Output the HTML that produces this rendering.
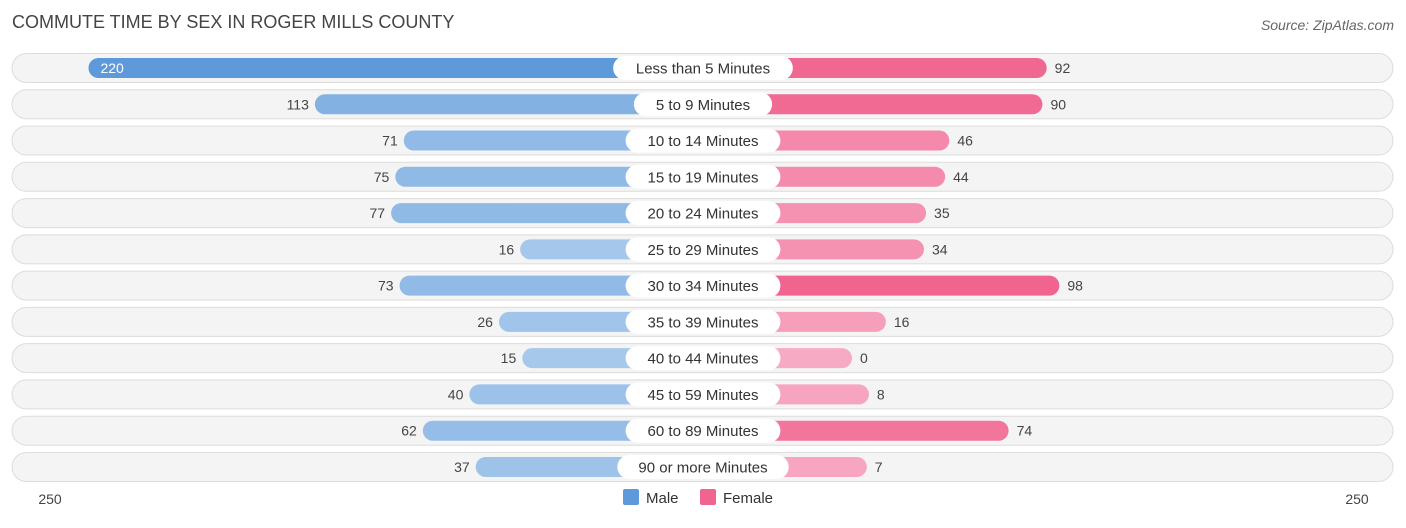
<!DOCTYPE html>
<html><head><meta charset="utf-8"><style>
body{margin:0;background:#fff;font-family:"Liberation Sans",sans-serif;}
svg text{font-family:"Liberation Sans",sans-serif;}
</style></head><body>
<svg id="c" width="1406" height="523">
<text x="12" y="28" font-size="18" fill="#444">COMMUTE TIME BY SEX IN ROGER MILLS COUNTY</text>
<text x="1394" y="30" font-size="14" fill="#666" font-style="italic" text-anchor="end">Source: ZipAtlas.com</text>
<g id="rows"></g>
<text x="50" y="504" font-size="14" fill="#444" text-anchor="middle">250</text>
<text x="1357" y="504" font-size="14" fill="#444" text-anchor="middle">250</text>
<g>
<rect x="623" y="489" width="16" height="16" rx="2" fill="#5e9ad9"/>
<text x="646" y="503" font-size="15" fill="#333">Male</text>
<rect x="700" y="489" width="16" height="16" rx="2" fill="#f0648f"/>
<text x="723" y="503" font-size="15" fill="#333">Female</text>
</g>
</svg>
<script>
const categories=["Less than 5 Minutes","5 to 9 Minutes","10 to 14 Minutes","15 to 19 Minutes","20 to 24 Minutes","25 to 29 Minutes","30 to 34 Minutes","35 to 39 Minutes","40 to 44 Minutes","45 to 59 Minutes","60 to 89 Minutes","90 or more Minutes"];
const male=[220,113,71,75,77,16,73,26,15,40,62,37];
const female=[92,90,46,44,35,34,98,16,0,8,74,7];
const axisMax=250;
const NS="http://www.w3.org/2000/svg";
const cx=703, off=149, unit=(678-149)/axisMax, y0=68, dy=36.27;
function xs(v){return off+v*unit;}
function mix(a,b,t){return "rgb("+a.map((c,i)=>Math.round(b[i]+(c-b[i])*t)).join(",")+")";}
const g=document.getElementById("rows");
function mk(tag,at){const e=document.createElementNS(NS,tag);for(const k in at)e.setAttribute(k,at[k]);return e;}
const mmax=Math.max(...male), fmax=Math.max(...female);
categories.forEach((cat,i)=>{
 const y=y0+i*dy;
 const row=mk("g",{});
 
 
 const bg=mk("rect",{x:12,y:y-14.5,width:1381,height:29,rx:14.5,fill:"#f4f4f4",stroke:"#dcdcdc","stroke-width":1});
 
 
 row.appendChild(bg);
 const mw=xs(male[i]);
 const mb=mk("rect",{x:cx-mw,y:y-10,width:mw,height:20,rx:10,fill:mix([94,154,217],[170,203,236],male[i]/mmax)});
 
 
 row.appendChild(mb);
 const fw=xs(female[i]);
 const fb=mk("rect",{x:cx,y:y-10,width:fw,height:20,rx:10,fill:mix([240,100,143],[247,170,196],female[i]/fmax)});
 
 
 row.appendChild(fb);
 const inside=male[i]>180;
 const mt=mk("text",{x:inside?cx-mw+12:cx-mw-6,y:y+5,"font-size":14,fill:inside?"#fff":"#444","text-anchor":inside?"start":"end"});
 mt.textContent=male[i];
 
 
 row.appendChild(mt);
 const ft=mk("text",{x:cx+fw+8,y:y+5,"font-size":14,fill:"#444"});
 ft.textContent=female[i];
 
 
 row.appendChild(ft);
 const lw=cat.length*8.3+22;
 const lb=mk("rect",{x:cx-lw/2,y:y-12,width:lw,height:24,rx:12,fill:"#fff"});
 
 
 row.appendChild(lb);
 const lt=mk("text",{x:cx,y:y+5.5,"font-size":15,fill:"#333","text-anchor":"middle"});
 lt.textContent=cat;
 
 
 row.appendChild(lt);
 g.appendChild(row);
});
</script>
</body></html>
